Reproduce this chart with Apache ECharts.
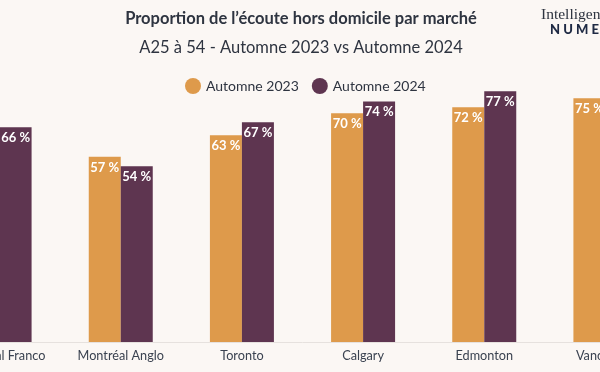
<!DOCTYPE html>
<html>
<head>
<meta charset="utf-8">
<script src="https://cdn.jsdelivr.net/npm/echarts@6/dist/echarts.min.js"></script>
<style>
html,body{margin:0;padding:0;background:#FBF7F4;overflow:hidden;width:600px;height:372px;}
#c{position:absolute;left:-61px;top:0;width:727px;height:372px;}
</style>
</head>
<body>
<div id="c"></div>
<script>
const categories = ['Montréal Franco', 'Montréal Anglo', 'Toronto', 'Calgary', 'Edmonton', 'Vancouver'];
const seriesNames = ['Automne 2023', 'Automne 2024'];
const values2023 = [null, 56.8, 63.4, 70.2, 72.0, 74.8];
const values2024 = [65.9, 53.9, 67.4, 73.8, 76.9, null];
const titleText = 'Proportion de l\u2019écoute hors domicile par marché';
const subtitleText = 'A25 à 54 - Automne 2023 vs Automne 2024';

const colors = ['#DE9A4B', '#5E3550'];
const FONT = 'Lato, "Noto Sans", sans-serif';
const OFF = 61; // div offset so that the visible window matches the reference crop

const chart = echarts.init(document.getElementById('c'), null, {renderer: 'canvas'});
const labelCfg = {
  show: true,
  position: 'insideTop',
  distance: 4,
  color: '#ffffff',
  fontFamily: FONT,
  fontSize: 13,
  fontWeight: 'bold',
  formatter: p => Math.round(p.value) + ' %'
};
chart.setOption({
  backgroundColor: '#FBF7F4',
  animation: false,
  legend: {
    data: seriesNames,
    top: 73,
    left: 180 + OFF,
    icon: 'circle',
    itemWidth: 16,
    itemHeight: 16,
    itemGap: 13,
    textStyle: {fontFamily: FONT, fontSize: 14, color: '#2E3440'}
  },
  graphic: [
    {type: 'text', x: 301 + OFF, y: 19, style: {text: titleText, align: 'center', verticalAlign: 'middle', fontFamily: FONT, fontSize: 16.5, fontWeight: 'bold', fill: '#2E3440'}},
    {type: 'text', x: 301 + OFF, y: 48, style: {text: subtitleText, align: 'center', verticalAlign: 'middle', fontFamily: FONT, fontSize: 16.5, fontWeight: 'normal', fill: '#2E3440'}},
    {type: 'text', x: 541 + OFF, y: 14.5, style: {text: 'Intelligence', verticalAlign: 'middle', fontFamily: '"Liberation Serif", "DejaVu Serif", serif', fontSize: 15.5, fill: '#2E3440'}},
    {type: 'text', x: 550 + OFF, y: 30, style: {text: 'N U M E R I S', verticalAlign: 'middle', fontFamily: FONT, fontSize: 13, fontWeight: 900, fill: '#1F2A44'}}
  ],
  grid: {left: 0, right: 0, top: 16, bottom: 30, containLabel: false},
  xAxis: {
    type: 'category',
    data: categories,
    axisTick: {show: false},
    axisLine: {lineStyle: {color: '#E6E1DE', width: 1}},
    axisLabel: {fontFamily: FONT, fontSize: 12.7, color: '#3A4250', margin: 7, interval: 0}
  },
  yAxis: {
    type: 'value',
    min: 0,
    max: 100,
    show: false,
    splitLine: {show: false}
  },
  series: [
    {name: seriesNames[0], type: 'bar', data: values2023, barWidth: 32, barGap: '0%', itemStyle: {color: colors[0]}, label: labelCfg},
    {name: seriesNames[1], type: 'bar', data: values2024, barWidth: 32, barGap: '0%', itemStyle: {color: colors[1]}, label: labelCfg}
  ]
});
</script>
</body>
</html>
